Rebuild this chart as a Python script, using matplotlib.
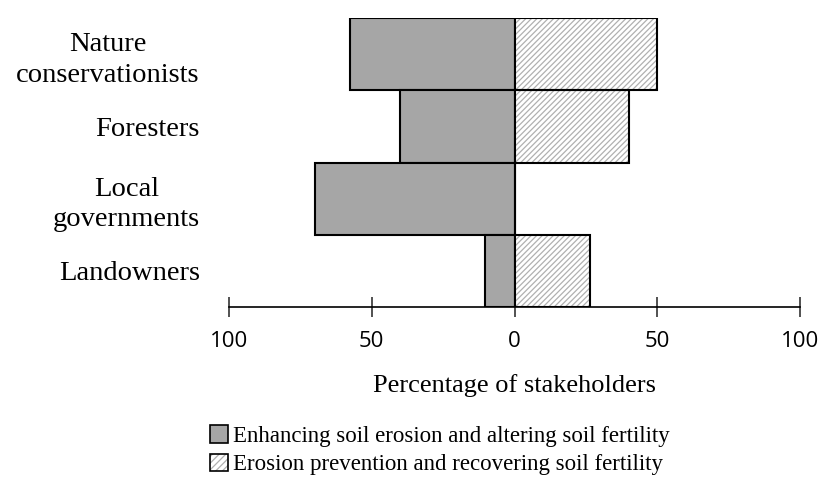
import matplotlib
matplotlib.use("Agg")
import matplotlib.pyplot as plt
from matplotlib.patches import Patch
from matplotlib.legend_handler import HandlerTuple

categories = ["Nature\nconservationists", "Foresters", "Local\ngovernments", "Landowners"]
enhancing = [57.7, 40, 70, 10.3]      # plotted to the left
prevention = [50, 40, 0, 26.4]        # plotted to the right
tick_values = [-100, -50, 0, 50, 100]
tick_labels = ["100", "50", "0", "50", "100"]
label_enh = "Enhancing soil erosion and altering soil fertility"
label_prev = "Erosion prevention and recovering soil fertility"

plt.rcParams["hatch.linewidth"] = 0.9
serif = ["Liberation Serif", "DejaVu Serif"]
sans = ["Open Sans", "DejaVu Sans"]

fig = plt.figure(figsize=(8.21, 4.78), dpi=100)
ax = fig.add_axes([229/821, 1 - 307/478, (800 - 229)/821, (307 - 18)/478])

ypos = list(range(len(categories)))[::-1]
grey = "#a6a6a6"
ax.barh(ypos, [-v for v in enhancing], height=1.0, color=grey, edgecolor="black", linewidth=1.5, zorder=2)
ax.barh(ypos, prevention, height=1.0, color="white", edgecolor="#b0b0b0", hatch="//////", linewidth=0, zorder=2)
ax.barh(ypos, prevention, height=1.0, color="none", edgecolor="black", linewidth=1.5, zorder=3)

ax.set_xlim(-100, 100)
ax.set_ylim(-0.5, 3.5)
ax.set_yticks(ypos)
ax.set_yticklabels(categories, fontsize=20.5, family=serif, ha="right", multialignment="center",
                   linespacing=1.3)
ax.tick_params(axis="y", length=0, pad=21)
ax.set_xticks(tick_values)
ax.set_xticklabels(tick_labels, fontsize=16, family=sans)
ax.tick_params(axis="x", direction="inout", length=14, width=1.2, color="#333333", pad=10)
for s in ["left", "top", "right"]:
    ax.spines[s].set_visible(False)
ax.spines["bottom"].set_linewidth(1.2)
ax.set_xlabel("Percentage of stakeholders", fontsize=19, family=serif, labelpad=16)

h1 = Patch(facecolor=grey, edgecolor="black", linewidth=1.2)
h2a = Patch(facecolor="white", edgecolor="#b0b0b0", hatch="/////", linewidth=0)
h2b = Patch(facecolor="none", edgecolor="black", linewidth=1.2)
leg = fig.legend([h1, (h2a, h2b)], [label_enh, label_prev],
                 handler_map={tuple: HandlerTuple(ndivide=1, pad=0)},
                 loc="upper left", bbox_to_anchor=(210/821, 1 - 425/478),
                 frameon=False, prop={"family": serif, "size": 16.5},
                 handlelength=0.8, handleheight=0.8, handletextpad=0.2,
                 labelspacing=0.3, borderpad=0, borderaxespad=0)

fig.savefig("out.png", dpi=100)
